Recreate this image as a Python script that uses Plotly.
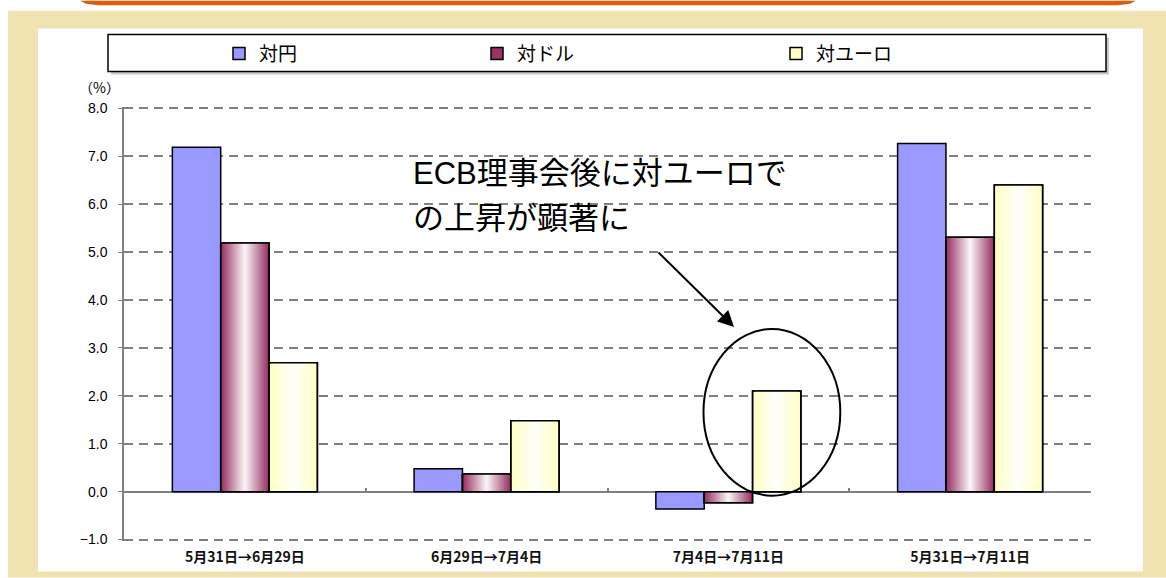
import plotly.graph_objects as go

# ---------------- data ----------------
categories = ["5月31日→6月29日", "6月29日→7月4日", "7月4日→7月11日", "5月31日→7月11日"]
series_names = ["対円", "対ドル", "対ユーロ"]
vs_yen = [7.19, 0.48, -0.36, 7.27]
vs_usd = [5.19, 0.37, -0.23, 5.31]
vs_eur = [2.69, 1.48, 2.10, 6.40]
y_ticks = [-1, 0, 1, 2, 3, 4, 5, 6, 7, 8]
note_line1 = "ECB理事会後に対ユーロで"
note_line2 = "の上昇が顕著に"

# ---------------- geometry helpers (layout only) ----------------
W, H = 1166, 578
EXT = 0.03            # tiny range extension so edge gridlines are drawn
PPU = 48.0            # pixels per y unit
L, R = 124, 1091
T = 108 - EXT * PPU
B = 540 + EXT * PPU


def PX(px):
    return (px - L) / (R - L)


def PY(py):
    return (B - py) / (B - T)


def hexrgb(h):
    h = h.lstrip("#")
    return tuple(int(h[i:i + 2], 16) for i in (0, 2, 4))


def mix(c, f):
    r, g, b = hexrgb(c)
    return "rgb(%d,%d,%d)" % (r + (255 - r) * f, g + (255 - g) * f, b + (255 - b) * f)


fig = go.Figure()

BW = 0.2
offsets = [-0.3, -0.1, 0.1]
FONT = "Noto Sans CJK JP"
MIXFONT = "Liberation Sans, Noto Sans CJK JP"

# blue series (solid)
fig.add_trace(go.Bar(
    x=categories, y=vs_yen, name=series_names[0], legend="legend",
    offset=offsets[0], width=BW,
    marker=dict(color="#9999FF", line=dict(color="black", width=1.5)),
))


def gradient_series(values, name, legend, off, edge):
    N = 14
    for k in range(N):
        f = k / N
        w = BW * (1 - f)
        fig.add_trace(go.Bar(
            x=categories, y=values, name=name, legend=legend,
            showlegend=(k == 0),
            offset=off + (BW - w) / 2, width=w,
            marker=dict(color=mix(edge, f),
                        line=dict(color="black", width=1.5 if k == 0 else 0)),
        ))
    fig.add_trace(go.Bar(
        x=categories, y=values, name=name, showlegend=False,
        offset=off, width=BW,
        marker=dict(color="rgba(0,0,0,0)", line=dict(color="black", width=1.5)),
    ))


gradient_series(vs_usd, series_names[1], "legend2", offsets[1], "#993366")
gradient_series(vs_eur, series_names[2], "legend3", offsets[2], "#FFFFC4")

# ---------------- shapes ----------------
shapes = []
# beige frame
shapes.append(dict(type="rect", xref="paper", yref="paper", layer="below",
                   x0=PX(8), x1=PX(1166), y0=PY(10), y1=PY(578),
                   fillcolor="#F1E2B2", line=dict(width=0)))
shapes.append(dict(type="rect", xref="paper", yref="paper", layer="below",
                   x0=PX(38), x1=PX(1143), y0=PY(28), y1=PY(572),
                   fillcolor="white", line=dict(width=0)))
# orange top strip
pts = [(80, 0), (1136, 0), (1130, 3), (1118, 4.5), (98, 4.5), (86, 3)]
path = "M" + " L".join("%f,%f" % (PX(a), PY(b)) for a, b in pts) + " Z"
shapes.append(dict(type="path", xref="paper", yref="paper", path=path,
                   fillcolor="#E05C08", line=dict(width=0), layer="below"))
# legend box + shadow
shapes.append(dict(type="rect", xref="paper", yref="paper", layer="below",
                   x0=PX(111), x1=PX(1109), y0=PY(37), y1=PY(74),
                   fillcolor="#C8C8C8", line=dict(width=0)))
shapes.append(dict(type="rect", xref="paper", yref="paper", layer="below",
                   x0=PX(108), x1=PX(1106), y0=PY(34), y1=PY(71),
                   fillcolor="white", line=dict(color="black", width=1.5)))
# ellipse highlight
shapes.append(dict(type="circle", xref="x2", yref="y",
                   x0=1.897, x1=2.463, y0=-0.083, y1=3.396,
                   line=dict(color="black", width=2), layer="above"))

annotations = [
    dict(text="（%）", xref="paper", yref="paper", x=PX(99), y=PY(87),
         xanchor="center", yanchor="middle",
         showarrow=False, font=dict(size=14, family=FONT, color="black")),
    dict(text=note_line1, xref="paper", yref="paper", x=PX(411), y=PY(173),
         xanchor="left", yanchor="middle", showarrow=False,
         font=dict(size=31, family=MIXFONT, color="black")),
    dict(text=note_line2, xref="paper", yref="paper", x=PX(411), y=PY(218),
         xanchor="left", yanchor="middle", showarrow=False,
         font=dict(size=31, family=MIXFONT, color="black")),
    dict(text="", xref="paper", yref="paper", x=PX(734), y=PY(327),
         ax=-77, ay=-76, axref="pixel", ayref="pixel",
         showarrow=True, arrowhead=2, arrowsize=1.6, arrowwidth=2, arrowcolor="black"),
]


def leg(icon_left):
    return dict(x=PX(icon_left - 14), y=PY(53), xanchor="left", yanchor="middle",
                orientation="h", bgcolor="rgba(0,0,0,0)", borderwidth=0,
                font=dict(size=19, family=FONT, color="black"))


fig.update_layout(
    width=W, height=H, autosize=False,
    margin=dict(l=L, r=W - R, t=T, b=H - B, pad=0, autoexpand=False),
    paper_bgcolor="white", plot_bgcolor="rgba(0,0,0,0)",
    barmode="overlay",
    font=dict(family=FONT, color="black"),
    xaxis=dict(type="category", categoryarray=categories, categoryorder="array",
               range=[-0.5, 3.5], showgrid=False, showline=False, ticks="",
               zeroline=False, ticklabelstandoff=6, automargin=False,
               tickfont=dict(size=14, family=FONT, color="#111", weight="bold")),
    xaxis2=dict(overlaying="x", anchor="free", position=PY(492), range=[-0.5, 3.5],
                tickmode="array", tickvals=[-0.5, 0.5, 1.5, 2.5, 3.5], automargin=False,
                ticks="inside", ticklen=4, tickcolor="#808080", tickwidth=1.5,
                showticklabels=False, showgrid=False, zeroline=False, showline=False),
    yaxis=dict(range=[-1 - EXT, 8 + EXT], tickmode="array", tickvals=y_ticks,
               tickformat=".1f", showgrid=True, gridcolor="#808080", gridwidth=1.5,
               griddash="9px,6px", zeroline=True, zerolinecolor="#808080",
               zerolinewidth=1.5, showline=True, linecolor="#808080", linewidth=1.5,
               ticks="outside", ticklen=4, tickcolor="#808080",
               ticklabelstandoff=8, automargin=False,
               tickfont=dict(size=14, family="Liberation Sans", color="black")),
    legend=leg(233), legend2=leg(491), legend3=leg(790),
    shapes=shapes, annotations=annotations,
)

fig.write_html("out.html")
